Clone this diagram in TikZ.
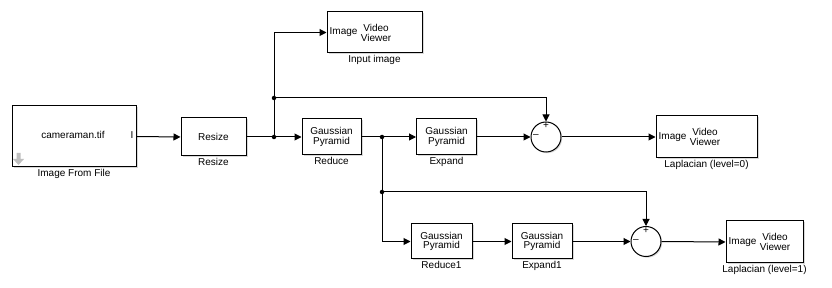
\documentclass[tikz,border=0pt]{standalone}
\usepackage{fontspec}
\setmainfont{Liberation Sans}
\usepackage{tikz}
\usetikzlibrary{arrows.meta,positioning,shadows,calc}

\begin{document}
\begin{tikzpicture}[x=1pt,y=-1pt]

\tikzset{
  block/.style={draw=black, fill=white, line width=1pt, inner sep=0pt,
                font=\fontsize{10}{9.5}\selectfont, align=center,
                drop shadow={shadow xshift=1.5pt, shadow yshift=-1.5pt, opacity=0.3}},
  sumblock/.style={circle, draw=black, fill=white, line width=1pt,
                minimum size=30pt, inner sep=0pt,
                drop shadow={shadow xshift=1.2pt, shadow yshift=-1.2pt, opacity=0.3}},
  lbl/.style={font=\fontsize{10}{9.5}\selectfont, inner sep=1pt},
  sign/.style={font=\fontsize{10}{10}\selectfont, inner sep=0pt},
  wire/.style={line width=1pt},
  sig/.style={line width=1pt, -{Triangle[length=7pt, width=7pt]}},
  dot/.style={circle, fill=black, inner sep=0pt, minimum size=4.5pt}
}

% viewer block: name, x, y, width, height
\newcommand{\viewer}[5]{
  \node[block, minimum width=#4pt, minimum height=#5pt] (#1) at (#2,#3) {};
  \node[lbl, anchor=west, inner sep=0pt] (#1img) at ($(#1.west)+(3,0)$) {Image};
  \node[lbl, anchor=west, align=center, inner sep=0pt, font=\fontsize{10}{10}\selectfont] (#1vv) at ($(#1img.east)+(3,0)$) {Video\\Viewer};
}

\useasboundingbox (0,0) rectangle (832,288);

% Source
\node[block, minimum width=124pt, minimum height=61pt] (img) at (74,136.5) {};
\node[lbl] (imgtxt) at (73,135) {cameraman.tif};
\node[lbl] (imgport) at (132,135) {I};
\fill[black!25] (16.5,153) rectangle (20.5,159) (13,159) -- (24,159) -- (18.5,165) -- cycle;
\node[lbl, below=1pt of img] (imglbl) {Image From File};

\node[block, minimum width=65pt, minimum height=38pt] (rsz) at (213.5,137) {Resize};
\node[lbl, below=1pt of rsz] (rszlbl) {Resize};

% Input viewer
\viewer{inview}{374.5}{32.5}{95}{41}
\node[lbl, below=1pt of inview] (inviewlbl) {Input image};

% Level 0
\node[block, minimum width=59pt, minimum height=36pt] (red) at (331.5,137) {Gaussian\\Pyramid};
\node[lbl, below=1pt of red] (redlbl) {Reduce};
\node[block, minimum width=60pt, minimum height=36pt] (exp) at (446.5,137) {Gaussian\\Pyramid};
\node[lbl, below=1pt of exp] (explbl) {Expand};
\node[sumblock] (sum0) at (546,137) {};
\node[sign] (sum0p) at (546,126) {+};
\node[sign] (sum0m) at (536,136.5) {--};
\viewer{lap0}{706.5}{137}{101}{42}
\node[lbl, below=1pt of lap0] (lap0lbl) {Laplacian (level=0)};

% Level 1
\node[block, minimum width=61pt, minimum height=35pt] (red1) at (441.5,241.5) {Gaussian\\Pyramid};
\node[lbl, below=1pt of red1] (red1lbl) {Reduce1};
\node[block, minimum width=60pt, minimum height=35pt] (exp1) at (542,241.5) {Gaussian\\Pyramid};
\node[lbl, below=1pt of exp1] (exp1lbl) {Expand1};
\node[sumblock] (sum1) at (646,241.5) {};
\node[sign] (sum1p) at (646,230.5) {+};
\node[sign] (sum1m) at (636,241) {--};
\viewer{lap1}{764.5}{242}{77}{42}
\node[lbl, below=1pt of lap1] (lap1lbl) {Laplacian (level=1)};

% Branch points
\node[dot] (j1) at (274,137) {};
\node[dot] (j2) at (274,98) {};
\node[dot] (j3) at (382,137) {};
\node[dot] (j4) at (382,192) {};

% Lines
\draw[sig] (img.east) -- (rsz.west);
\draw[wire] (rsz.east) -- (j1.center);
\draw[sig] (j1.center) |- (inview.west);
\draw[sig] (j1.center) -- (red.west);
\draw[sig] (j2.center) -| (sum0.north);
\draw[sig] (red.east) -- (exp.west);
\draw[sig] (exp.east) -- (sum0.west);
\draw[sig] (sum0.east) -- (lap0.west);
\draw[sig] (j3.center) |- (red1.west);
\draw[sig] (j4.center) -| (sum1.north);
\draw[sig] (red1.east) -- (exp1.west);
\draw[sig] (exp1.east) -- (sum1.west);
\draw[sig] (sum1.east) -- (lap1.west);

\end{tikzpicture}
\end{document}
